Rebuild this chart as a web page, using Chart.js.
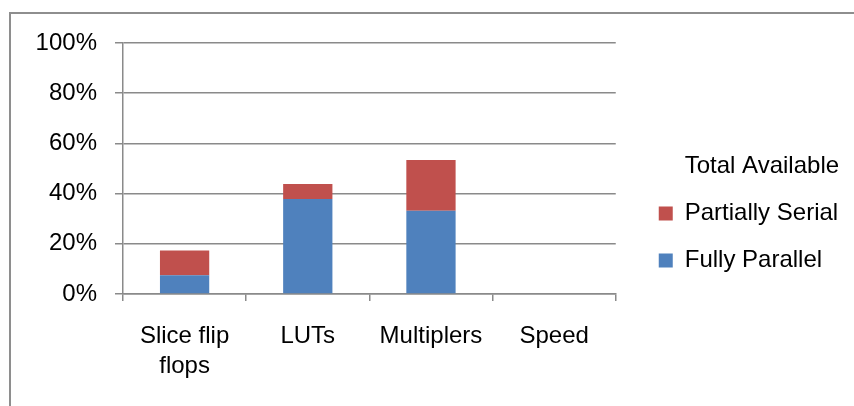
<!DOCTYPE html>
<html>
<head>
<meta charset="utf-8">
<script src="https://cdn.jsdelivr.net/npm/chart.js@4/dist/chart.umd.min.js"></script>
<style>
  html, body { margin: 0; padding: 0; background: #fff; }
  #wrap { width: 854px; height: 406px; position: relative; }
</style>
</head>
<body>
<div id="wrap"><canvas id="c" width="854" height="406"></canvas></div>
<script>
// Resource utilisation per category, in percent of what the device offers
const categories = [["Slice flip", "flops"], "LUTs", "Multiplers", "Speed"];
const fullyParallel = [7.5, 37.8, 33.2, 0];
const partiallySerial = [9.8, 6.0, 20.2, 0];
const totalAvailable = [0, 0, 0, 0];
const yTicks = [0, 20, 40, 60, 80, 100];

const FONT = "'Liberation Sans', Arial, sans-serif";
const AXIS_GREY = '#8a8a8a';

// Thin grey frame along the top and left edges of the chart object
const framePlugin = {
  id: 'frame',
  beforeDraw(chart) {
    const ctx = chart.ctx;
    ctx.save();
    ctx.strokeStyle = '#8e8e8e';
    ctx.lineWidth = 2;
    ctx.beginPath();
    ctx.moveTo(10, 406);
    ctx.lineTo(10, 13);
    ctx.lineTo(854, 13);
    ctx.stroke();
    ctx.restore();
  }
};

// Leave a gap between the plot area and the legend, and lift the legend a little
const legendOffsetPlugin = {
  id: 'legendOffset',
  afterLayout(chart) {
    const lg = chart.legend;
    if (!lg) return;
    lg.left += 20; lg.right += 20;
    lg.top -= 11; lg.bottom -= 11;
  }
};

Chart.defaults.color = '#000';
Chart.defaults.font.family = FONT;
Chart.defaults.font.size = 24;

new Chart(document.getElementById('c'), {
  type: 'bar',
  data: {
    labels: categories,
    datasets: [
      { label: 'Fully Parallel', data: fullyParallel, backgroundColor: '#4F81BD', borderWidth: 0 },
      { label: 'Partially Serial', data: partiallySerial, backgroundColor: '#C0504D', borderWidth: 0 },
      { label: 'Total Available', data: totalAvailable, backgroundColor: 'rgba(255,255,255,0)', borderWidth: 0 }
    ]
  },
  options: {
    responsive: false,
    animation: false,
    layout: { padding: { top: 43, right: 33, bottom: 0, left: 0 } },
    datasets: { bar: { barPercentage: 0.4, categoryPercentage: 1.0 } },
    plugins: {
      legend: {
        position: 'right',
        reverse: true,
        labels: {
          boxWidth: 14,
          boxHeight: 14,
          padding: 23,
          color: '#000',
          font: { size: 24, family: FONT }
        }
      },
      tooltip: { enabled: false }
    },
    scales: {
      x: {
        stacked: true,
        afterFit(s) { s.height = 406 - 294; },
        grid: {
          display: true,
          drawOnChartArea: false,
          drawTicks: true,
          tickLength: 7,
          offset: true,
          color: AXIS_GREY,
          lineWidth: 1.5
        },
        border: { display: true, color: AXIS_GREY, width: 1.5 },
        ticks: {
          padding: 20,
          color: '#000',
          maxRotation: 0,
          autoSkip: false,
          font: { size: 24, lineHeight: 1.25 }
        }
      },
      y: {
        stacked: true,
        min: 0,
        max: 100,
        afterFit(s) { s.width = 123; },
        afterBuildTicks(s) { s.ticks = yTicks.map(v => ({ value: v })); },
        grid: {
          color: AXIS_GREY,
          lineWidth: 1.5,
          drawTicks: true,
          tickLength: 8
        },
        border: { display: true, color: AXIS_GREY, width: 1.5 },
        ticks: {
          padding: 18,
          color: '#000',
          callback: v => v + '%'
        }
      }
    }
  },
  plugins: [framePlugin, legendOffsetPlugin]
});
</script>
</body>
</html>
